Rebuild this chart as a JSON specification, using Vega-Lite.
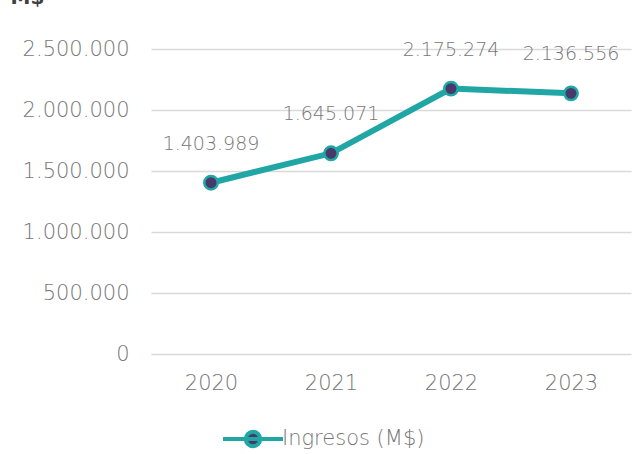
{
  "$schema": "https://vega.github.io/schema/vega-lite/v6.json",
  "width": 480,
  "height": 305,
  "autosize": "none",
  "padding": {"left": 151, "top": 49, "right": 11, "bottom": 100},
  "background": "white",
  "data": {"values": [
    {"anio": "2020", "ingresos": 1403989, "serie": "Ingresos (M$)"},
    {"anio": "2021", "ingresos": 1645071, "serie": "Ingresos (M$)"},
    {"anio": "2022", "ingresos": 2175274, "serie": "Ingresos (M$)"},
    {"anio": "2023", "ingresos": 2136556, "serie": "Ingresos (M$)"}
  ]},
  "config": {
    "font": "DejaVu Sans",
    "view": {"stroke": null},
    "locale": {"number": {"decimal": ",", "thousands": ".", "grouping": [3], "currency": ["$", ""]}}
  },
  "encoding": {
    "x": {"field": "anio", "type": "ordinal", "scale": {"paddingInner": 0, "paddingOuter": 0},
      "axis": {"title": null, "labelAngle": 0, "labelFont": "DejaVu Sans", "labelFontWeight": 300, "labelFontSize": 21, "labelColor": "#777777", "labelPadding": 18, "domain": false, "ticks": false, "grid": false}},
    "y": {"field": "ingresos", "type": "quantitative", "scale": {"domain": [0, 2500000], "nice": false},
      "axis": {"values": [0, 500000, 1000000, 1500000, 2000000, 2500000], "format": ",d", "labelFont": "DejaVu Sans", "labelFontWeight": 300, "labelFontSize": 21, "labelColor": "#777777", "labelPadding": 22, "domain": false, "ticks": false, "gridColor": "#d9d9d9", "gridWidth": 1.5,
        "title": "M$", "titleAngle": 0, "titleAlign": "left", "titleBaseline": "alphabetic", "titleX": -141, "titleY": -46, "titleFontSize": 20, "titleFontWeight": "bold", "titleColor": "#404040", "titleFont": "DejaVu Sans"}}
  },
  "layer": [
    {"mark": {"type": "line", "strokeWidth": 6, "strokeCap": "round"},
     "encoding": {"color": {"field": "serie", "type": "nominal", "scale": {"range": ["#21a6a6"]},
       "legend": {"title": null, "orient": "none", "legendX": 70, "legendY": 358, "symbolType": "M-1,0L1,0M0.24,0A0.24,0.24,0,1,1,-0.24,0A0.24,0.24,0,1,1,0.24,0Z", "symbolSize": 3600, "labelFont": "DejaVu Sans", "labelFontWeight": 300, "labelFontSize": 21, "labelColor": "#777777", "labelOffset": -3,
         "encode": {"symbols": {"update": {"fill": {"value": "#47396a"}, "stroke": {"value": "#21a6a6"}, "strokeWidth": {"value": 4}, "opacity": {"value": 1}}}}}}}},
    {"mark": {"type": "point", "filled": true, "size": 180, "fill": "#47396a", "stroke": "#21a6a6", "strokeWidth": 2.5, "opacity": 1}},
    {"mark": {"type": "text", "dy": -39, "font": "DejaVu Sans", "fontWeight": 300, "fontSize": 19, "color": "#777777"},
     "encoding": {"text": {"field": "ingresos", "type": "quantitative", "format": ",d"}}}
  ]
}
